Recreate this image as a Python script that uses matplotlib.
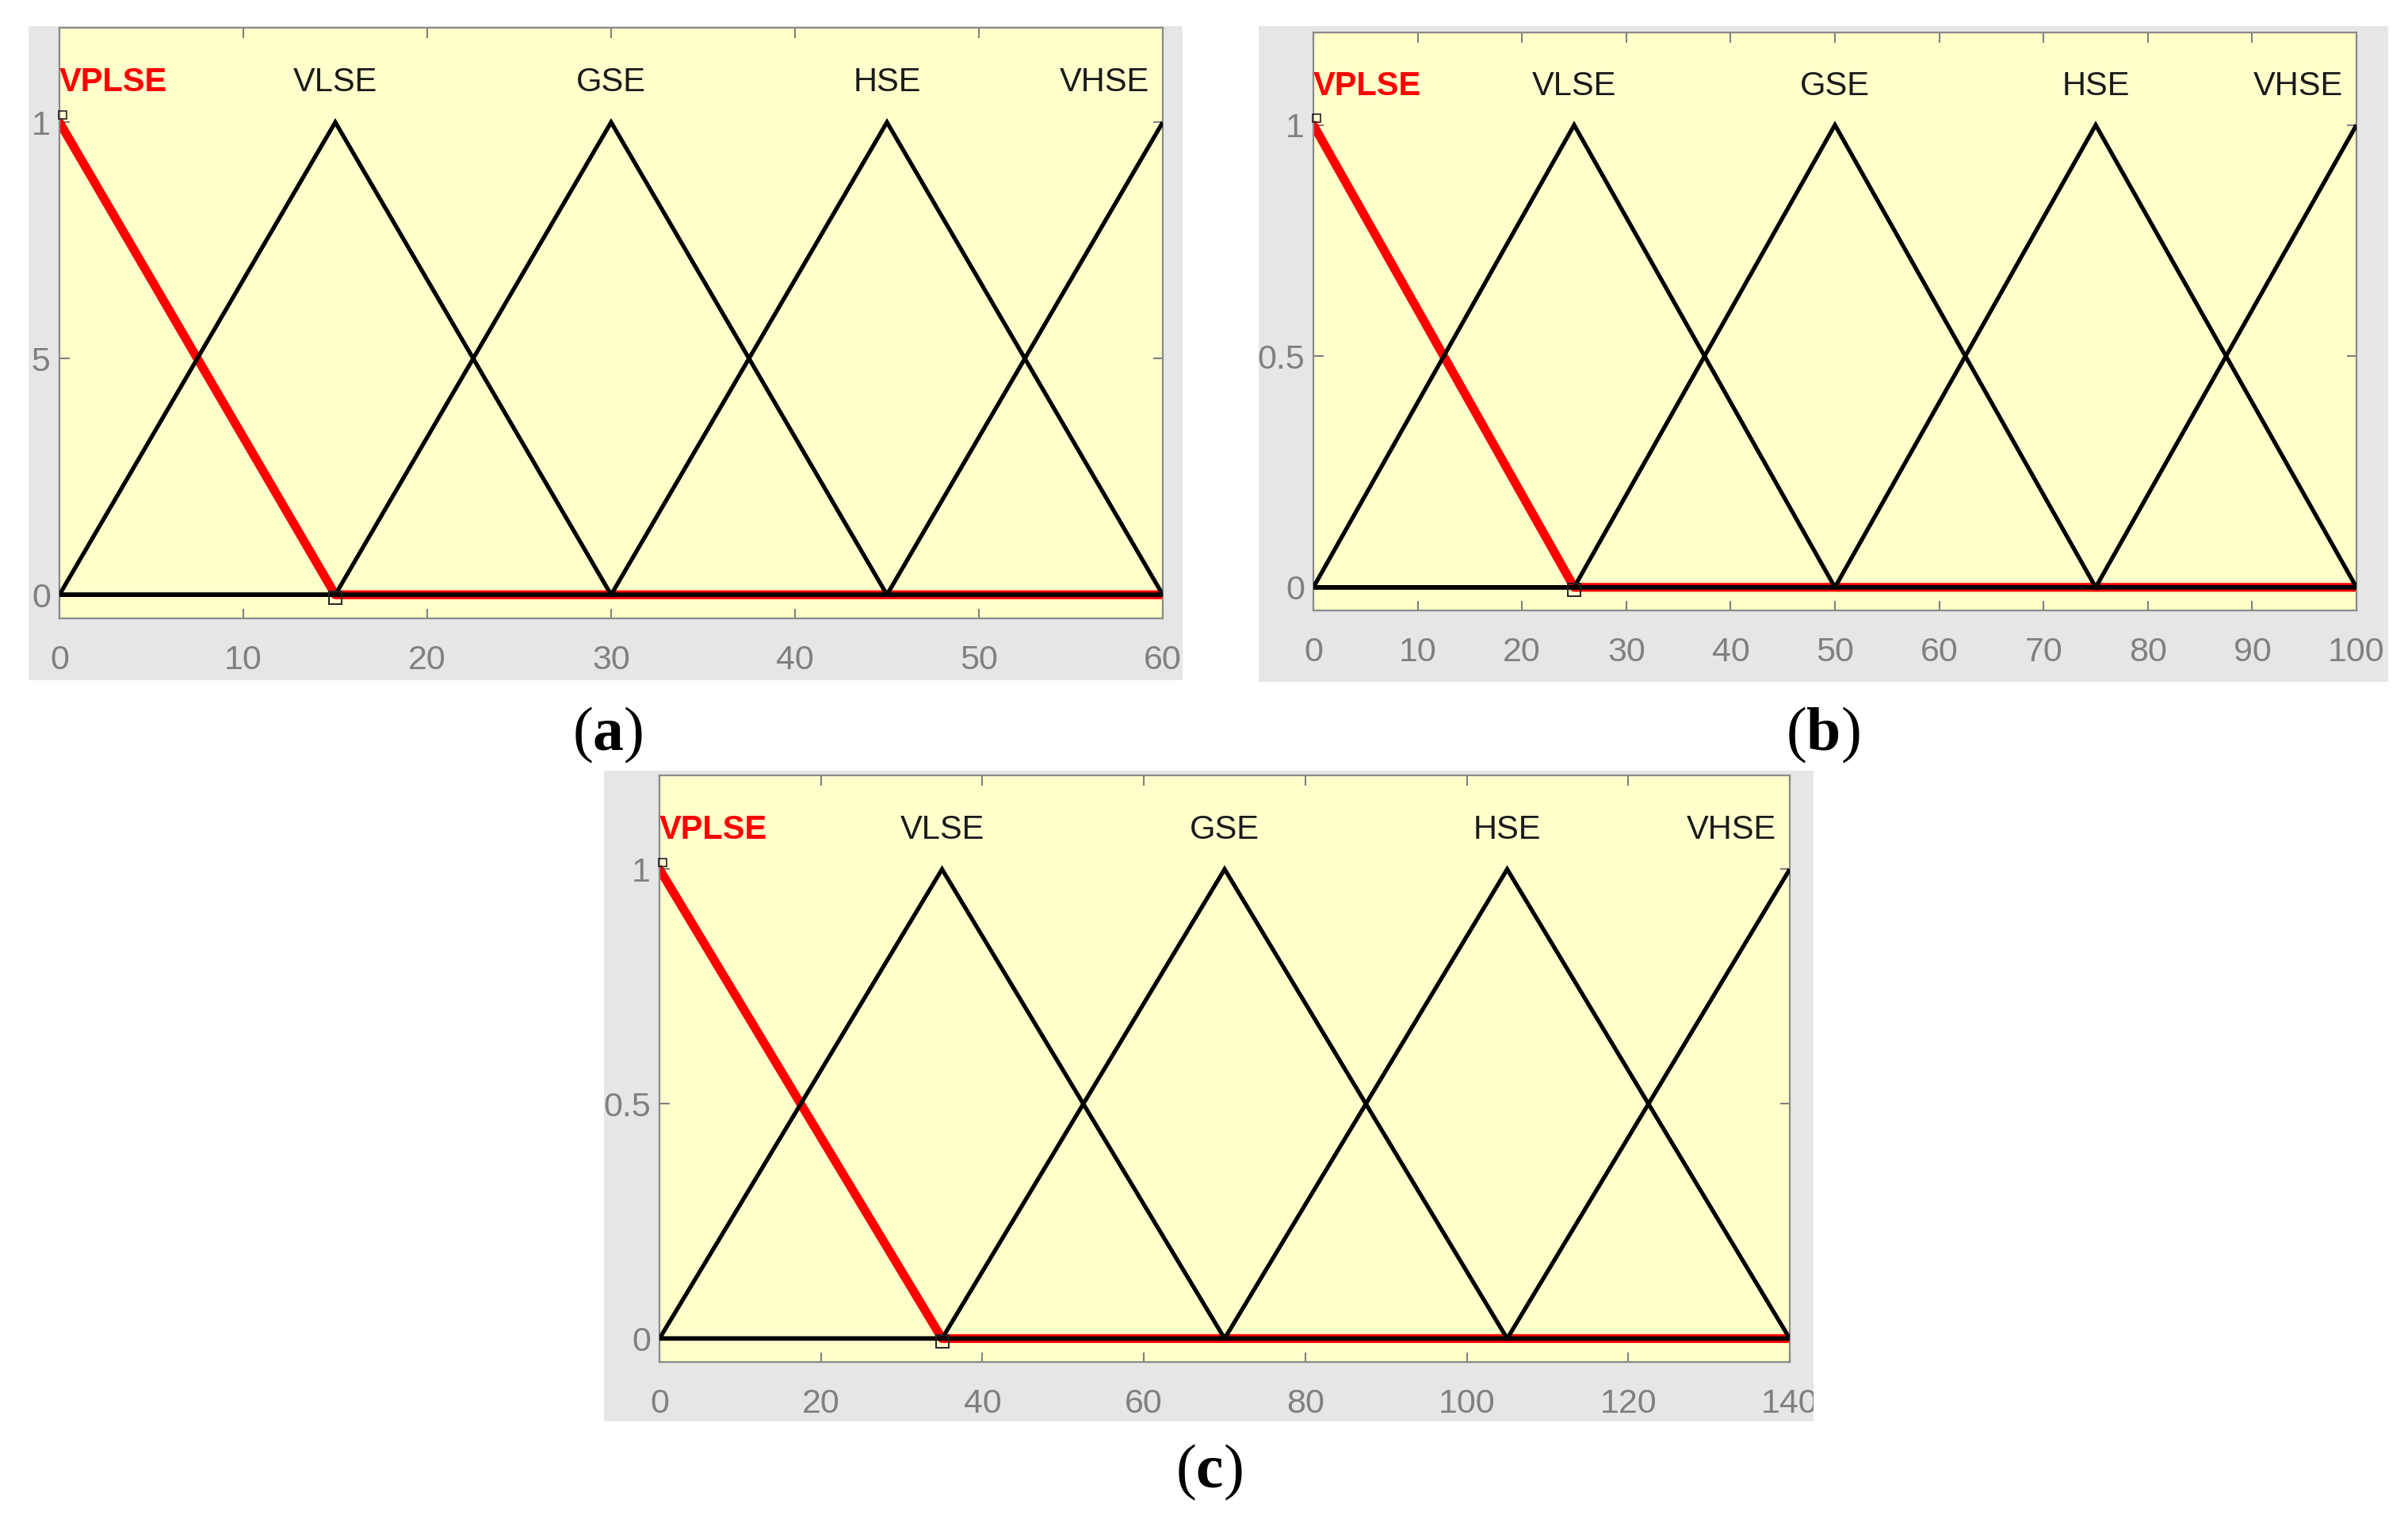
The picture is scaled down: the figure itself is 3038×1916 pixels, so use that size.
import matplotlib
matplotlib.use("Agg")
import matplotlib.pyplot as plt
from matplotlib.patches import Rectangle
from matplotlib.transforms import Bbox, TransformedBbox

# ---------------- data ----------------
mf_names = ["VPLSE", "VLSE", "GSE", "HSE", "VHSE"]
a_range = 60
a_centers = [0, 15, 30, 45, 60]
a_half = 15
a_xticks = [0, 10, 20, 30, 40, 50, 60]
b_range = 100
b_centers = [0, 25, 50, 75, 100]
b_half = 25
b_xticks = [0, 10, 20, 30, 40, 50, 60, 70, 80, 90, 100]
c_range = 140
c_centers = [0, 35, 70, 105, 140]
c_half = 35
c_xticks = [0, 20, 40, 60, 80, 100, 120, 140]
y_ticks = [0, 0.5, 1]
y_ticklabels = ["0", "0.5", "1"]
panel_labels = ["a", "b", "c"]

# ---------------- style ----------------
plt.rcParams['mathtext.fontset'] = 'custom'
plt.rcParams['mathtext.rm'] = 'Liberation Serif'
plt.rcParams['mathtext.bf'] = 'Liberation Serif:bold'
sans = ['Liberation Sans', 'DejaVu Sans']

W, H = 3038, 1916
fig = plt.figure(figsize=(W / 100, H / 100), dpi=100)
fig.patch.set_facecolor('white')


def fx(px):
    return px / W


def fy(py):
    return 1 - py / H


def trimf(x, c, half):
    return max(0.0, 1.0 - abs(x - c) / half)


axes_px = [(75, 35, 1467, 780), (1657, 41, 2973, 770), (832, 978, 2258, 1718)]
grey_px = [(36, 33, 1492, 858), (1588, 33, 3013, 860), (762, 972, 2288, 1793)]
label_px = [(767, 927), (2300, 927), (1525, 1857)]

panels = [
    (a_range, a_centers, a_half, a_xticks),
    (b_range, b_centers, b_half, b_xticks),
    (c_range, c_centers, c_half, c_xticks),
]

BG = '#e6e6e6'
FACE = '#ffffcc'
TICKC = '#808080'

for k, (rng, centers, half, xticks) in enumerate(panels):
    gl, gt, gr, gb = grey_px[k]
    rect = Rectangle((fx(gl), fy(gb)), fx(gr) - fx(gl), fy(gt) - fy(gb),
                     transform=fig.transFigure, facecolor=BG, edgecolor='none',
                     zorder=-5)
    fig.add_artist(rect)
    clipbox = TransformedBbox(Bbox([[fx(gl), fy(gb)], [fx(gr), fy(gt)]]),
                              fig.transFigure)

    l, t, r, b = axes_px[k]
    ax = fig.add_axes([fx(l), fy(b), fx(r) - fx(l), fy(t) - fy(b)])
    ax.set_facecolor(FACE)
    ax.set_xlim(0, rng)
    ax.set_ylim(-0.05, 1.2)

    # membership functions (triangles over the whole universe)
    for i, c in enumerate(centers):
        xs = sorted(set(x for x in [0, c - half, c, c + half, rng] if 0 <= x <= rng))
        ys = [trimf(x, c, half) for x in xs]
        if i == 0:
            ax.plot(xs, ys, color='#ff0000', lw=8, zorder=2,
                    solid_capstyle='round', solid_joinstyle='round')
        else:
            ax.plot(xs, ys, color='black', lw=3.8, zorder=3,
                    solid_joinstyle='miter', solid_capstyle='butt')
    # edit handles of the selected MF
    ax.plot([centers[0] + rng * 0.003], [1.015], ls='none', marker='s',
            ms=7, mfc='none', mec='#222222', mew=1.2, zorder=4, clip_on=False)
    ax.plot([centers[0] + half], [-0.006], ls='none', marker='s',
            ms=11, mfc='none', mec='#222222', mew=1.4, zorder=4)

    # MF labels
    for i, (name, c) in enumerate(zip(mf_names, centers)):
        if i == 0:
            ax.text(c, 1.065, name, color='#ff0000', fontweight='bold',
                    fontsize=30, ha='left', va='baseline', family=sans)
        elif i == len(centers) - 1:
            ax.annotate(name, xy=(c, 1.065), xytext=(-17, 0),
                        textcoords='offset pixels', color='#1a1a1a',
                        fontsize=30, ha='right', va='baseline', family=sans)
        else:
            ax.text(c, 1.065, name, color='#1a1a1a', fontsize=30,
                    ha='center', va='baseline', family=sans)

    ax.set_xticks(xticks)
    ax.set_xticklabels([str(v) for v in xticks])
    ax.set_yticks(y_ticks)
    ax.set_yticklabels(y_ticklabels)
    ax.tick_params(axis='both', direction='in', length=9, width=1.5,
                   color=TICKC, labelcolor=TICKC, labelsize=31,
                   top=True, right=True)
    ax.tick_params(axis='x', pad=24)
    ax.tick_params(axis='y', pad=8)
    for lab in ax.get_xticklabels() + ax.get_yticklabels():
        lab.set_family(sans)
        lab.set_clip_on(True)
        lab.set_clip_box(clipbox)
    for sp in ax.spines.values():
        sp.set_color('#8a8a8a')
        sp.set_linewidth(1.6)

    lx, ly = label_px[k]
    fig.text(fx(lx), fy(ly), r"($\mathbf{%s}$)" % panel_labels[k],
             fontsize=56, ha='center', va='center', family='Liberation Serif')

fig.savefig('out.png', dpi=100, facecolor='white')
